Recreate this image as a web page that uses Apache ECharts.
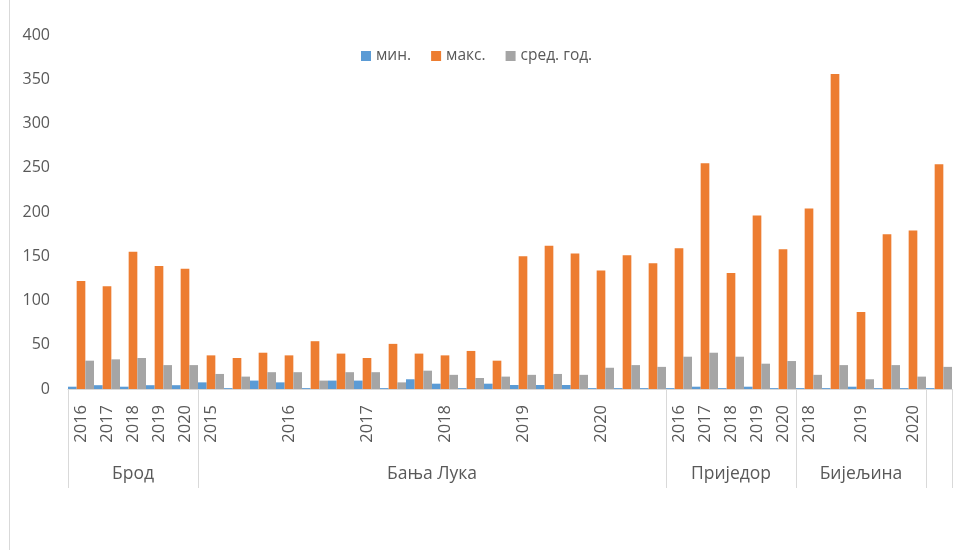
<!DOCTYPE html>
<html>
<head>
<meta charset="utf-8">
<script src="https://cdn.jsdelivr.net/npm/echarts@6/dist/echarts.min.js"></script>
<style>
html,body{margin:0;padding:0;background:#fff;}
#chart{width:968px;height:550px;}
</style>
</head>
<body>
<div id="chart"></div>
<script>
// Category keys (unique) and the year labels shown under each bar group
const categories = [
  'Брод-2016','Брод-2017','Брод-2018','Брод-2019','Брод-2020',
  'БЛ-1','БЛ-2','БЛ-3','БЛ-4','БЛ-5','БЛ-6','БЛ-7','БЛ-8','БЛ-9','БЛ-10','БЛ-11','БЛ-12','БЛ-13','БЛ-14','БЛ-15','БЛ-16','БЛ-17','БЛ-18',
  'Пр-2016','Пр-2017','Пр-2018','Пр-2019','Пр-2020',
  'Би-1','Би-2','Би-3','Би-4','Би-5',
  'X-1'
];
const yearLabels = [
  '2016','2017','2018','2019','2020',
  '2015','','','2016','','','2017','','','2018','','','2019','','','2020','','',
  '2016','2017','2018','2019','2020',
  '2018','','2019','','2020',
  ''
];
const groupNames = ['Брод','Бања Лука','Приједор','Бијељина'];
const groupCenters = [2.5, 14, 25.5, 30.5];
const groupBounds = [0, 5, 23, 28, 33, 34];

const minValues = [
  2.6, 4.3, 2.6, 4.3, 4.3,
  7.5, 1, 9.5, 7.5, 1, 9.5, 9.5, 1, 11, 6, 1, 6, 4.5, 4.5, 4.5, 1, 1, 1,
  1, 2.6, 1, 2.6, 1,
  1, 1, 2.6, 1, 1,
  1
];
const maxValues = [
  122, 116, 155, 139, 136,
  38, 35, 41, 38, 54, 40, 35, 51, 40, 38, 43, 32, 150, 162, 153, 134, 151, 142,
  159, 255, 131, 196, 158,
  204, 356, 87, 175, 179,
  254
];
const avgValues = [
  32, 33.5, 35, 27, 27,
  17, 14, 19, 19, 9.5, 19, 19, 7.5, 20.7, 16, 12.4, 14, 16, 17, 16, 24, 27, 25,
  36.5, 41, 36.5, 28.6, 31.6,
  16, 27, 11, 27, 14,
  25
];
const yTicks = [0, 50, 100, 150, 200, 250, 300, 350, 400];

const FONT = 'Open Sans';
const TXT = '#595959';

const chart = echarts.init(document.getElementById('chart'), null, {renderer: 'canvas'});
chart.setOption({
  animation: false,
  textStyle: {fontFamily: FONT},
  color: ['#5B9BD5', '#ED7D31', '#A5A5A5'],
  legend: {
    left: 356, top: 43,
    itemWidth: 10, itemHeight: 10, itemGap: 20,
    icon: 'rect',
    textStyle: {color: TXT, fontSize: 15.5, fontFamily: FONT}
  },
  grid: {left: 68, right: 16, top: 35, bottom: 161, containLabel: false},
  xAxis: [
    {
      type: 'category',
      data: categories,
      axisLine: {show: true, lineStyle: {color: '#D9D9D9', width: 1}},
      axisTick: {show: false},
      axisLabel: {
        interval: 0, rotate: 90, margin: 16,
        color: TXT, fontSize: 16.5, fontFamily: FONT,
        formatter: (v, i) => yearLabels[i]
      }
    },
    {
      type: 'value',
      position: 'bottom',
      min: 0, max: 34,
      axisLine: {show: false},
      splitLine: {show: false},
      axisTick: {
        show: true, inside: false, length: 99,
        customValues: groupBounds,
        lineStyle: {color: '#D9D9D9', width: 1}
      },
      axisLabel: {
        show: true, margin: 76,
        customValues: groupCenters,
        color: TXT, fontSize: 17.5, fontFamily: FONT,
        formatter: (v) => {
          const k = groupCenters.indexOf(v);
          return k >= 0 ? groupNames[k] : '';
        }
      }
    }
  ],
  yAxis: {
    type: 'value', min: 0, max: 400, interval: 50,
    axisLine: {show: false}, axisTick: {show: false},
    splitLine: {show: false},
    axisLabel: {
      color: TXT, fontSize: 16, fontFamily: FONT, margin: 18,
      formatter: (v) => yTicks.includes(v) ? String(v) : ''
    }
  },
  series: [
    {name: 'мин.', type: 'bar', data: minValues, barGap: '0%', barCategoryGap: '0%'},
    {name: 'макс.', type: 'bar', data: maxValues, barGap: '0%', barCategoryGap: '0%'},
    {name: 'сред. год.', type: 'bar', data: avgValues, barGap: '0%', barCategoryGap: '0%'}
  ],
  graphic: [
    {type: 'line', shape: {x1: 9.5, y1: 0, x2: 9.5, y2: 550}, style: {stroke: '#D9D9D9', lineWidth: 1}, silent: true}
  ]
});
</script>
</body>
</html>
